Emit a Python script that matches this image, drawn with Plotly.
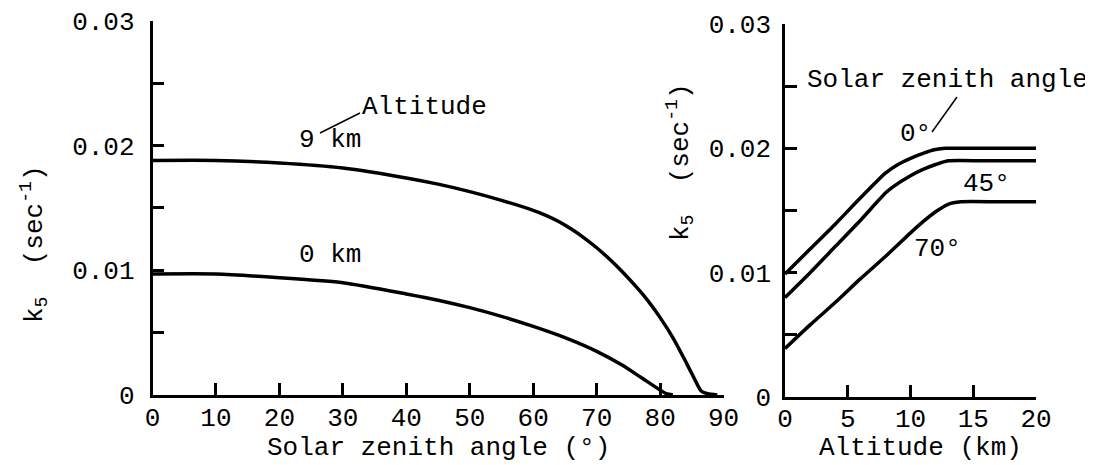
import plotly.graph_objects as go

# ---------------- data ----------------
# Left panel: k5 vs solar zenith angle, two altitudes
zenith_9km = [0, 10, 20, 30, 40, 45, 50, 55, 60, 62, 64, 66, 68, 70, 72, 74, 76, 78, 80, 82, 84, 85, 86, 86.5, 87.5, 89]
k5_9km = [0.0188, 0.0188, 0.0186, 0.0182, 0.0174, 0.0169, 0.0163, 0.0156, 0.0148, 0.0144, 0.0139, 0.0133,
          0.0126, 0.0118, 0.0109, 0.0099, 0.0088, 0.0076, 0.0062, 0.0046, 0.0027, 0.0017, 0.0007, 0.0003,
          0.0001, 0.0]

zenith_0km = [0, 10, 20, 30, 40, 45, 50, 55, 60, 65, 70, 74, 77, 80, 81, 82]
k5_0km = [0.0097, 0.0097, 0.0094, 0.0090, 0.0081, 0.0076, 0.0070, 0.0063, 0.0055, 0.0046, 0.0035, 0.0024,
          0.0014, 0.0004, 0.0001, 0.0]

# Right panel: k5 vs altitude, three solar zenith angles
alt_0deg = [0, 2, 4, 6, 8, 9, 10, 11, 12, 12.8, 16, 20]
k5_0deg = [0.0099, 0.0119, 0.0139, 0.0160, 0.0180, 0.0187, 0.0192, 0.0196, 0.0199, 0.0200, 0.0200, 0.0200]

alt_45deg = [0, 2, 4, 6, 8, 8.6, 10, 11, 12, 13, 16, 20]
k5_45deg = [0.0080, 0.0100, 0.0121, 0.0142, 0.0164, 0.0169, 0.0178, 0.0183, 0.0187, 0.0190, 0.0190, 0.0190]

alt_70deg = [0, 2, 4, 6, 8, 10, 11, 12, 13, 14, 17, 20]
k5_70deg = [0.0039, 0.0058, 0.0076, 0.0095, 0.0113, 0.0132, 0.0141, 0.0149, 0.0155, 0.0157, 0.0157, 0.0157]

# tick labels
left_xticks = [0, 10, 20, 30, 40, 50, 60, 70, 80, 90]
right_xticks = [0, 5, 10, 15, 20]
y_tickvals = [0, 0.01, 0.02, 0.03]
y_ticktext = ["0", "0.01", "0.02", "0.03"]
y_minorvals = [0.005, 0.015, 0.025]

# ---------------- figure ----------------
# The page body has an 8 px margin, so the figure is 8 px smaller and
# page-pixel positions are converted accordingly.
PAGE_W, PAGE_H = 1093, 465
OFF = 8
W, H = PAGE_W - OFF, PAGE_H - OFF
FONT = "Liberation Mono"
FS = 26


def px(x):
    return (x - OFF) / W


def py(y):
    return (PAGE_H - y) / H


fig = go.Figure()
line = dict(color="black", width=3.5, shape="spline", smoothing=0.6)

fig.add_trace(go.Scatter(x=zenith_9km, y=k5_9km, mode="lines", line=line, xaxis="x", yaxis="y"))
fig.add_trace(go.Scatter(x=zenith_0km, y=k5_0km, mode="lines", line=line, xaxis="x", yaxis="y"))
fig.add_trace(go.Scatter(x=alt_0deg, y=k5_0deg, mode="lines", line=line, xaxis="x2", yaxis="y2"))
fig.add_trace(go.Scatter(x=alt_45deg, y=k5_45deg, mode="lines", line=line, xaxis="x2", yaxis="y2"))
fig.add_trace(go.Scatter(x=alt_70deg, y=k5_70deg, mode="lines", line=line, xaxis="x2", yaxis="y2"))

axis_common = dict(
    showline=True, linecolor="black", linewidth=2.5, mirror=False,
    showgrid=False, zeroline=False, automargin=False,
    ticks="inside", ticklen=12, tickwidth=2.5, tickcolor="black",
    tickfont=dict(family=FONT, size=FS, color="black"),
    ticklabeloverflow="allow",
    fixedrange=True,
)
y_minor = dict(ticks="inside", tickvals=y_minorvals, ticklen=12, tickwidth=2.5,
               tickcolor="black", showgrid=False)

fig.update_layout(
    width=W, height=H,
    margin=dict(l=0, r=0, t=0, b=0, pad=0, autoexpand=False),
    paper_bgcolor="white", plot_bgcolor="white",
    showlegend=False,
    font=dict(family=FONT, size=FS, color="black"),
    xaxis=dict(axis_common, domain=[px(152.5), px(723.6)], range=[0, 90],
               tickvals=left_xticks, ticktext=[str(v) for v in left_xticks],
               anchor="y", ticklabelstandoff=-3),
    yaxis=dict(axis_common, domain=[py(395), py(20.7)], range=[0, 0.03],
               tickvals=y_tickvals, ticktext=y_ticktext, minor=y_minor,
               anchor="x", ticklabelstandoff=10),
    xaxis2=dict(axis_common, domain=[px(785), px(1036)], range=[0, 20],
                tickvals=right_xticks, ticktext=[str(v) for v in right_xticks],
                anchor="y2", ticklabelstandoff=-4),
    yaxis2=dict(axis_common, domain=[py(397), py(24)], range=[0, 0.03],
                tickvals=y_tickvals, ticktext=y_ticktext, minor=y_minor,
                anchor="x2", ticklabelstandoff=6),
)

ann_font = dict(family=FONT, size=FS, color="black")


def label(text, x, y, angle=0, yanchor="middle"):
    fig.add_annotation(text=text, x=px(x), y=py(y), xref="paper", yref="paper",
                       xanchor="center", yanchor=yanchor, showarrow=False,
                       textangle=angle, font=ann_font)


# axis titles (sitting on the bottom edge of the page)
label("Solar zenith angle (°)", 438, 465, yanchor="bottom")
label("Altitude (km)", 920, 465, yanchor="bottom")
label("k<sub>5</sub>  (sec<sup>-1</sup>)", 34, 244, -90)
label("k<sub>5</sub>  (sec<sup>-1</sup>)", 680, 162, -90)

# curve labels
label("Altitude", 424, 107)
label("9 km", 330, 140)
label("0 km", 330, 255)
label("Solar zenith angle", 947, 80)
label("0°", 915, 134)
label("45°", 986, 184)
label("70°", 937, 249)

# leader lines
for (x0, y0, x1, y1) in [(320, 133, 360, 113), (932, 132, 957, 97)]:
    fig.add_shape(type="line", xref="paper", yref="paper",
                  x0=px(x0), y0=py(y0), x1=px(x1), y1=py(y1),
                  line=dict(color="black", width=1.5))

fig.write_html("out.html")
